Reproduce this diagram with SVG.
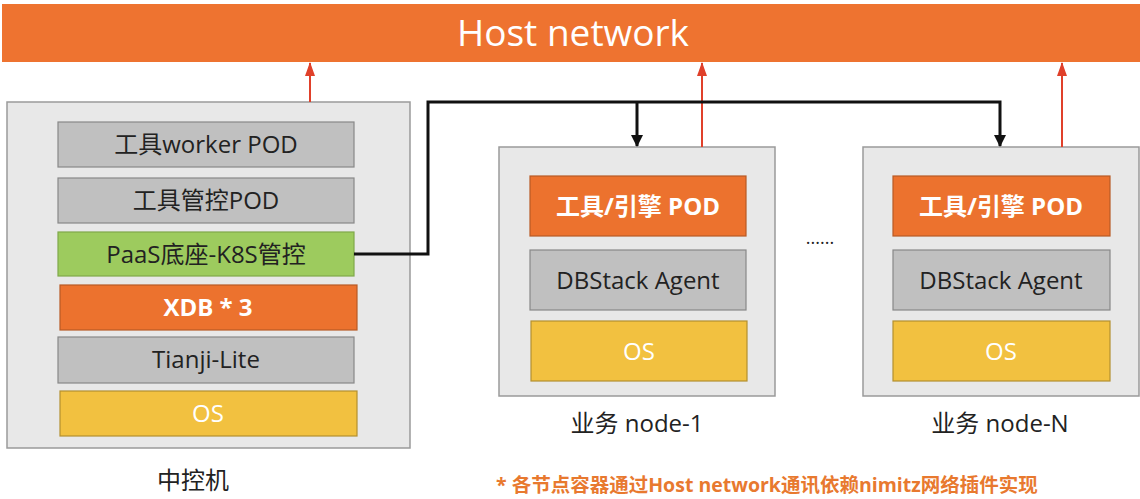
<svg xmlns="http://www.w3.org/2000/svg" width="1140" height="499" viewBox="0 0 1140 499">
<style>
.t{font-family:"Open Sans","Noto Sans CJK SC",sans-serif;text-anchor:middle}
.dark{fill:#222;font-size:24px}
.wb{fill:#fff;font-size:24px;font-weight:bold}
.w{fill:#fff;font-size:24px}
.cont{fill:#e8e8e8;stroke:#9a9a9a;stroke-width:1.5}
.gray{fill:#c0c0c0;stroke:#888;stroke-width:1.2}
.green{fill:#9dcb5e;stroke:#7fa84a;stroke-width:1.2}
.orange{fill:#ec722e;stroke:#b85a25;stroke-width:1.2}
.yellow{fill:#f2c140;stroke:#b39030;stroke-width:1.2}
.red{stroke:#e0402a;stroke-width:2;fill:none}
.blk{stroke:#111;stroke-width:3;fill:none}
</style>
<defs>
<marker id="ar" markerWidth="14" markerHeight="10" refX="13" refY="5" orient="auto" markerUnits="userSpaceOnUse"><path d="M0,0 L14,5 L0,10 z" fill="#e0402a"/></marker>
<marker id="ab" markerWidth="12" markerHeight="12" refX="11" refY="6" orient="auto" markerUnits="userSpaceOnUse"><path d="M0,0 L12,6 L0,12 z" fill="#111"/></marker>
</defs>
<rect x="0" y="0" width="1140" height="499" fill="#fff"/>
<g id="host-network">
<rect x="2" y="4" width="1138" height="58" fill="#ee7330"/>
<text class="t" x="573" y="46" fill="#fff" font-size="37">Host network</text>
</g>
<g id="zhongkongji">
<rect class="cont" x="7" y="102" width="403" height="346"/>
<rect class="gray" x="58" y="122" width="296" height="45"/>
<text class="t dark" x="206" y="153">工具worker POD</text>
<rect class="gray" x="58" y="178" width="296" height="45"/>
<text class="t dark" x="206" y="209">工具管控POD</text>
<rect class="green" x="58" y="232" width="296" height="44"/>
<text class="t dark" x="206" y="263">PaaS底座-K8S管控</text>
<rect class="orange" x="60" y="285" width="297" height="45"/>
<text class="t wb" x="208" y="316">XDB * 3</text>
<rect class="gray" x="58" y="337" width="296" height="46"/>
<text class="t dark" x="206" y="368">Tianji-Lite</text>
<rect class="yellow" x="60" y="391" width="297" height="45"/>
<text class="t w" x="208" y="422">OS</text>
<text class="t dark" x="193" y="489">中控机</text>
</g>
<g id="node-1">
<rect class="cont" x="499" y="147" width="276" height="249"/>
<rect class="orange" x="530" y="176" width="216" height="60"/>
<text class="t wb" x="638" y="215">工具/引擎 POD</text>
<rect class="gray" x="530" y="250" width="216" height="60"/>
<text class="t dark" x="638" y="289">DBStack Agent</text>
<rect class="yellow" x="531" y="321" width="216" height="60"/>
<text class="t w" x="639" y="360">OS</text>
<text class="t dark" x="637" y="432">业务 node-1</text>
</g>
<g id="node-n">
<rect class="cont" x="863" y="147" width="276" height="249"/>
<rect class="orange" x="893" y="176" width="217" height="60"/>
<text class="t wb" x="1001" y="215">工具/引擎 POD</text>
<rect class="gray" x="893" y="250" width="217" height="60"/>
<text class="t dark" x="1001" y="289">DBStack Agent</text>
<rect class="yellow" x="893" y="321" width="217" height="60"/>
<text class="t w" x="1001" y="360">OS</text>
<text class="t dark" x="1000" y="432">业务 node-N</text>
</g>
<text class="t" x="820" y="244" fill="#222" font-size="18">......</text>
<g id="connectors">
<path class="red" d="M310,102 V63" marker-end="url(#ar)"/>
<path class="red" d="M702,147 V63" marker-end="url(#ar)"/>
<path class="red" d="M1062,147 V63" marker-end="url(#ar)"/>
<path class="blk" d="M354,254 H428 V102 H1000 V146" marker-end="url(#ab)"/>
<path class="blk" d="M637,102 V146" marker-end="url(#ab)"/>
</g>
<text x="496" y="492" font-family="Open Sans, Noto Sans CJK SC, sans-serif" font-size="19.5" font-weight="bold" fill="#e8792f">* 各节点容器通过Host network通讯依赖nimitz网络插件实现</text>
</svg>
